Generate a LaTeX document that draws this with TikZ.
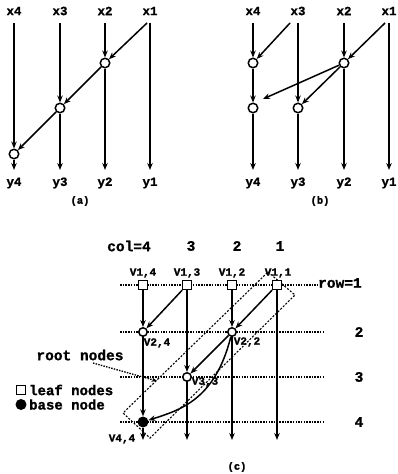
\documentclass[tikz,border=0pt]{standalone}
\usepackage{fontspec}
\setmonofont[BoldFeatures={FakeBold=1.2}]{Liberation Mono}
\usetikzlibrary{arrows.meta}
\tikzset{
  lab/.style={font=\ttfamily\bfseries\fontsize{12.5}{12.5}\selectfont, inner sep=0pt},
  biglab/.style={font=\ttfamily\bfseries\fontsize{14.5}{14.5}\selectfont, inner sep=0pt},
  leglab/.style={font=\ttfamily\bfseries\fontsize{14}{14}\selectfont, inner sep=0pt},
  vlab/.style={font=\ttfamily\bfseries\fontsize{11}{11}\selectfont, inner sep=0pt},
  caplab/.style={font=\ttfamily\bfseries\fontsize{10.5}{10.5}\selectfont, inner sep=0pt},
  ln/.style={line width=1.5pt},
  arr/.style={ln, -{Stealth[length=7pt,width=5.5pt]}},
  cnode/.style={circle, draw, line width=1.5pt, fill=white, minimum size=9.5pt, inner sep=0pt},
  snode/.style={rectangle, draw, line width=1.3pt, fill=white, minimum size=9pt, inner sep=0pt},
  bnode/.style={circle, fill=black, minimum size=11pt, inner sep=0pt},
  rowline/.style={line width=1.3pt, dash pattern=on 1.5pt off 1.2pt},
  boxline/.style={line width=1.1pt, dash pattern=on 2pt off 1.6pt},
}
\begin{document}
\begin{tikzpicture}[x=1pt,y=-1pt]
\useasboundingbox (0,0) rectangle (397,474);
% ---------------- (a)
\foreach \n/\x in {4/14,3/60,2/105,1/150}{
  \node[lab] (ax\n) at (\x,11) {x\n};
  \coordinate (at\n) at (\x,23);
  \coordinate (ab\n) at (\x,170);
  \node[lab] (ay\n) at (\x,183) {y\n};
}
\node[caplab] (acap) at (80,201) {(a)};
\node[cnode] (a2) at (105,63) {};
\node[cnode] (a3) at (60,108) {};
\node[cnode] (a4) at (14,154) {};
\coordinate (ad1) at (147,23);
\draw[arr] (at4) -- (a4);
\draw[arr] (a4) -- (ab4);
\draw[arr] (at3) -- (a3);
\draw[arr] (a3) -- (ab3);
\draw[arr] (at2) -- (a2);
\draw[arr] (a2) -- (ab2);
\draw[arr] (at1) -- (ab1);
\draw[arr] (ad1) -- (a2);
\draw[arr] (a2) -- (a3);
\draw[arr] (a3) -- (a4);
% ---------------- (b)
\foreach \n/\x in {4/253,3/298,2/344,1/389}{
  \node[lab] (bx\n) at (\x,11) {x\n};
  \coordinate (bt\n) at (\x,23);
  \coordinate (bb\n) at (\x,170);
  \node[lab] (by\n) at (\x,183) {y\n};
}
\node[caplab] (bcap) at (320,201) {(b)};
\node[cnode] (b4u) at (253,63) {};
\node[cnode] (b4l) at (253,108) {};
\node[cnode] (b3) at (298,108) {};
\node[cnode] (b2) at (344,63) {};
\coordinate (bd3) at (290,23);
\coordinate (bd1) at (385,23);
\coordinate (bfree) at (263,99);
\draw[arr] (bt4) -- (b4u);
\draw[arr] (b4u) -- (b4l);
\draw[arr] (b4l) -- (bb4);
\draw[arr] (bt3) -- (b3);
\draw[arr] (b3) -- (bb3);
\draw[arr] (bt2) -- (b2);
\draw[arr] (b2) -- (bb2);
\draw[arr] (bt1) -- (bb1);
\draw[arr] (bd3) -- (b4u);
\draw[arr] (bd1) -- (b2);
\draw[arr] (b2) -- (bfree);
\draw[arr] (b2) -- (b3);
% ---------------- (c)
\node[biglab] (col4) at (129,246) {col=4};
\node[biglab] (col3) at (191,246) {3};
\node[biglab] (col2) at (237,246) {2};
\node[biglab] (col1) at (280,246) {1};
% row lines
\coordinate (r1l) at (120,285); \coordinate (r1r) at (318,285);
\coordinate (r2l) at (120,332); \coordinate (r2r) at (325,332);
\coordinate (r3l) at (120,377); \coordinate (r3r) at (325,377);
\coordinate (r4l) at (120,422); \coordinate (r4r) at (325,422);
\draw[rowline] (r1l) -- (r1r);
\draw[rowline] (r2l) -- (r2r);
\draw[rowline] (r3l) -- (r3r);
\draw[rowline] (r4l) -- (r4r);
\node[biglab, anchor=west] (row1) at (318,283) {row=1};
\node[biglab] (row2) at (359,332) {2};
\node[biglab] (row3) at (359,377) {3};
\node[biglab] (row4) at (359,422) {4};
% dashed box
\draw[boxline] (268,272) -- (295,295) -- (150,438) -- (123,413) -- cycle;
% nodes
\node[snode] (s4) at (143,285) {};
\node[snode] (s3) at (187,285) {};
\node[snode] (s2) at (232,285) {};
\node[snode] (s1) at (277,285) {};
\node[cnode, minimum size=8.5pt] (c24) at (143,332) {};
\node[cnode, minimum size=8.5pt] (c22) at (232,332) {};
\node[cnode, minimum size=8.5pt] (c33) at (187,377) {};
\node[bnode] (b44) at (143,422) {};
\foreach \n/\x in {4/143,3/187,2/232,1/277}{
  \coordinate (cb\n) at (\x,440);
}
\node[vlab] (v14) at (143,273) {V1,4};
\node[vlab] (v13) at (187,273) {V1,3};
\node[vlab] (v12) at (232,273) {V1,2};
\node[vlab] (v11) at (278,273) {V1,1};
\node[vlab] (v24) at (157,343) {V2,4};
\node[vlab] (v22) at (247,342) {V2,2};
\node[vlab] (v33) at (205,382) {V3,3};
\node[vlab] (v44) at (122,439) {V4,4};
% connectors
\draw[arr] (s4) -- (c24);
\draw[arr] (c24) -- (b44);
\draw[arr] (b44) -- (cb4);
\draw[arr] (s3) -- (c33);
\draw[arr] (c33) -- (cb3);
\draw[arr] (s2) -- (c22);
\draw[arr] (c22) -- (cb2);
\draw[arr] (s1) -- (cb1);
\draw[arr] (s3) -- (c24);
\draw[arr] (s1) -- (c22);
\draw[arr] (c22) -- (c33);
\draw[arr] (c22) .. controls (215,400) and (180,410) .. (b44);
% root nodes
\node[biglab] (rootlab) at (80,355) {root nodes};
\coordinate (rootstart) at (93,363);
\coordinate (rootend) at (157,381);
\draw[rowline, -{Stealth[length=5.5pt,width=4.5pt]}] (rootstart) -- (rootend);
% legend
\node[snode] (legs) at (21,390) {};
\node[leglab, anchor=west] (legst) at (29,390) {leaf nodes};
\node[bnode] (legb) at (21,404.5) {};
\node[leglab, anchor=west] (legbt) at (29,404.5) {base node};
\node[caplab] (ccap) at (237,467) {(c)};
\end{tikzpicture}
\end{document}
